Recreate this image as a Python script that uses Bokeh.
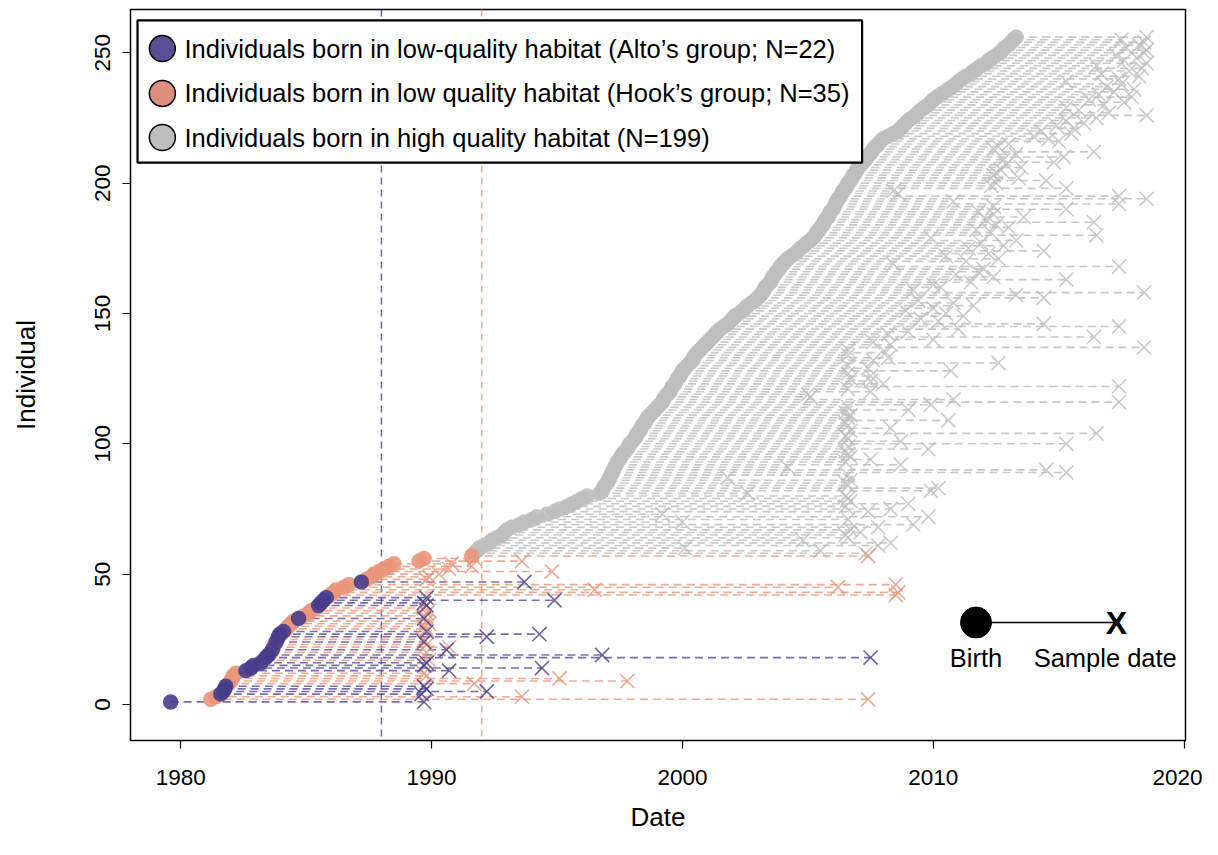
from bokeh.plotting import figure
from bokeh.models import ColumnDataSource, Span, FixedTicker, Range1d
from bokeh.embed import file_html
from bokeh.resources import INLINE
from bokeh.core.properties import value

# ---------------- data ----------------
# Alto's group (low-quality habitat), individual rank, birth date, sample date
alto_id = [1, 4, 5, 6, 7, 13, 14, 15, 16, 18, 19, 21, 24, 26, 27, 28, 33, 38, 39, 40, 41, 47]
alto_birth = [1979.6, 1981.6, 1981.7, 1981.75, 1981.8, 1982.6, 1982.8, 1982.9, 1983.2, 1983.4, 1983.5,
              1983.65, 1983.8, 1983.9, 1983.95, 1984.1, 1984.7, 1985.5, 1985.6, 1985.7, 1985.8, 1987.2]
alto_sample = [1989.7, 1989.6, 1992.2, 1989.8, 1989.7, 1990.7, 1994.4, 1989.7, 1989.8, 2007.5, 1996.8,
               1990.6, 1989.7, 1992.2, 1994.3, 1989.8, 1989.7, 1989.8, 1989.7, 1994.9, 1989.8, 1993.7]

# Hook's group (low quality habitat)
hook_id = [2, 3, 8, 9, 10, 11, 12, 17, 20, 22, 23, 25, 29, 30, 31, 32, 34, 35, 36, 37, 42, 43, 44, 45, 46,
           48, 49, 50, 51, 52, 53, 54, 55, 56, 57]
hook_birth = [1981.2, 1981.4, 1981.9, 1982.0, 1982.05, 1982.1, 1982.2, 1983.3, 1983.6, 1983.7, 1983.75,
              1983.85, 1984.2, 1984.3, 1984.4, 1984.5, 1984.9, 1985.1, 1985.2, 1985.4, 1985.95, 1986.1,
              1986.2, 1986.5, 1986.7, 1987.4, 1987.6, 1987.7, 1987.9, 1988.1, 1988.3, 1988.5, 1989.5,
              1989.7, 1991.6]
hook_sample = [2007.4, 1993.6, 1991.7, 1997.8, 1995.1, 1989.8, 1989.7, 1989.9, 1989.8, 1990.7, 1989.8,
               1989.7, 1989.8, 1989.7, 1989.9, 1989.8, 1989.7, 1989.8, 1989.9, 1989.7, 2008.5, 2008.6,
               1996.5, 2006.2, 2008.5, 1989.8, 1989.9, 1990.3, 1994.8, 1990.7, 1991.6, 1990.8, 1993.6,
               1991.7, 2007.4]

# High quality habitat, individuals ranked 58..256
high_id = list(range(58, 257))
high_birth = [
    1991.7, 1991.8, 1991.9, 1992.1, 1992.3, 1992.4, 1992.6, 1992.8, 1992.9, 1993.0,
    1993.2, 1993.5, 1993.7, 1994.0, 1994.2, 1994.6, 1994.9, 1995.1, 1995.4, 1995.6,
    1995.8, 1996.0, 1996.2, 1996.7, 1996.8, 1996.85, 1996.9, 1997.0, 1997.05, 1997.1,
    1997.15, 1997.2, 1997.25, 1997.3, 1997.35, 1997.4, 1997.5, 1997.55, 1997.6, 1997.7,
    1997.8, 1997.85, 1997.9, 1998.0, 1998.1, 1998.15, 1998.2, 1998.3, 1998.35, 1998.4,
    1998.5, 1998.55, 1998.6, 1998.7, 1998.8, 1998.9, 1999.0, 1999.1, 1999.2, 1999.25,
    1999.3, 1999.4, 1999.5, 1999.55, 1999.6, 1999.7, 1999.75, 1999.8, 1999.9, 1999.95,
    2000.0, 2000.1, 2000.2, 2000.3, 2000.4, 2000.45, 2000.5, 2000.6, 2000.7, 2000.8,
    2000.9, 2001.0, 2001.1, 2001.2, 2001.3, 2001.4, 2001.5, 2001.65, 2001.8, 2001.9,
    2002.0, 2002.1, 2002.25, 2002.4, 2002.5, 2002.6, 2002.75, 2002.9, 2003.0, 2003.1,
    2003.2, 2003.25, 2003.3, 2003.4, 2003.5, 2003.55, 2003.6, 2003.7, 2003.75, 2003.85,
    2003.9, 2004.0, 2004.1, 2004.2, 2004.35, 2004.5, 2004.6, 2004.7, 2004.85, 2004.95,
    2005.1, 2005.2, 2005.3, 2005.35, 2005.45, 2005.5, 2005.6, 2005.65, 2005.7, 2005.8,
    2005.85, 2005.9, 2006.0, 2006.05, 2006.1, 2006.15, 2006.2, 2006.3, 2006.35, 2006.4,
    2006.5, 2006.55, 2006.6, 2006.7, 2006.75, 2006.8, 2006.9, 2006.95, 2007.0, 2007.1,
    2007.2, 2007.3, 2007.35, 2007.45, 2007.55, 2007.6, 2007.7, 2007.8, 2007.9, 2008.0,
    2008.2, 2008.4, 2008.6, 2008.7, 2008.8, 2008.9, 2009.0, 2009.15, 2009.3, 2009.4,
    2009.5, 2009.65, 2009.8, 2009.9, 2010.0, 2010.15, 2010.3, 2010.45, 2010.6, 2010.75,
    2010.9, 2011.0, 2011.15, 2011.3, 2011.5, 2011.6, 2011.75, 2011.9, 2012.1, 2012.2,
    2012.35, 2012.5, 2012.65, 2012.75, 2012.85, 2013.0, 2013.1, 2013.2, 2013.3]
high_sample = [
    2007.3, 2005.5, 2000.1, 2007.8, 2008.3, 2004.8, 2006.6, 2006.5, 2007.1, 2006.7,
    2007.8, 2009.2, 2000.0, 2006.6, 2009.8, 1999.2, 2007.4, 2008.3, 2006.5, 2009.0,
    2006.7, 2006.6, 2006.5, 2002.6, 2009.9, 2010.2, 2006.6, 2006.5, 2006.7, 2001.8,
    2006.6, 2015.3, 2014.5, 2004.2, 2008.7, 2006.5, 2007.5, 2006.7, 2006.6, 2006.5,
    2009.8, 2006.6, 2015.3, 2008.7, 2006.6, 2006.5, 2016.5, 2006.7, 2008.3, 2006.6,
    2006.5, 2010.6, 2006.6, 2006.7, 2006.5, 2009.0, 2006.6, 2009.9, 2017.4, 2010.8,
    2005.1, 2005.0, 2007.5, 2006.6, 2017.4, 2008.0, 2007.5, 2006.7, 2007.5, 2006.6,
    2010.7, 2007.4, 2006.6, 2012.6, 2007.6, 2008.2, 2006.6, 2008.1, 2006.6, 2018.4,
    2008.3, 2007.6, 2010.0, 2016.4, 2008.2, 2009.0, 2011.0, 2017.4, 2014.4, 2010.2,
    2009.5, 2011.2, 2010.5, 2008.9, 2010.0, 2011.6, 2010.8, 2009.4, 2014.4, 2013.3,
    2018.4, 2009.2, 2010.3, 2010.0, 2011.5, 2015.3, 2012.4, 2010.9, 2011.8, 2012.0,
    2017.4, 2008.4, 2011.3, 2012.6, 2010.5, 2012.2, 2014.4, 2011.4, 2012.8, 2011.9,
    2013.3, 2009.9, 2016.5, 2012.3, 2011.7, 2013.0, 2012.5, 2016.4, 2012.1, 2013.6,
    2012.4, 2011.8, 2015.3, 2012.4, 2017.4, 2010.8, 2018.5, 2017.4, 2008.6, 2008.4,
    2015.3, 2012.3, 2012.5, 2014.5, 2013.4, 2012.4, 2012.5, 2012.7, 2013.5, 2012.9,
    2014.8, 2012.8, 2015.2, 2013.3, 2016.4, 2012.4, 2012.6, 2013.0, 2015.0, 2014.6,
    2014.0, 2015.5, 2014.3, 2015.6, 2014.9, 2016.0, 2015.3, 2016.5, 2018.5, 2017.0,
    2015.8, 2015.3, 2016.8, 2017.6, 2016.2, 2017.9, 2016.6, 2017.2, 2018.0, 2016.9,
    2017.5, 2015.3, 2017.4, 2018.2, 2016.7, 2017.8, 2018.3, 2016.5, 2018.5, 2017.6,
    2018.1, 2017.3, 2018.4, 2018.5, 2017.7, 2018.2, 2018.4, 2017.5, 2018.5]

x_ticks = [1980, 1990, 2000, 2010, 2020]
y_ticks = [0, 50, 100, 150, 200, 250]
alto_change = 1988.0
hook_change = 1992.0

legend_labels = ["Individuals born in low-quality habitat (Alto\u2019s group; N=22)",
                 "Individuals born in low quality habitat (Hook\u2019s group; N=35)",
                 "Individuals born in high quality habitat (N=199)"]

PURPLE = "#483D8B"
PINK = "#E9967A"
GRAY = "#BEBEBE"
FONT = "Liberation Sans"

# ---------------- figure ----------------
p = figure(width=1202, height=839, output_backend="svg", toolbar_location=None,
           x_range=Range1d(1978.0, 2020.05), y_range=Range1d(-13.8, 266.6),
           min_border_left=130, min_border_right=17, min_border_top=9, min_border_bottom=99)
p.grid.visible = False
p.outline_line_color = "black"
p.outline_line_width = 1.5
p.background_fill_color = "white"

for ax in (p.xaxis[0], p.yaxis[0]):
    ax.axis_line_color = None
    ax.major_tick_line_color = "black"
    ax.major_tick_line_width = 1.2
    ax.major_tick_out = 8
    ax.major_tick_in = 0
    ax.minor_tick_line_color = None
    ax.major_label_text_font = FONT
    ax.major_label_text_font_size = "22.5px"
    ax.major_label_text_color = "black"
    ax.axis_label_text_font = FONT
    ax.axis_label_text_font_size = "26px"
    ax.axis_label_text_font_style = "normal"
    ax.axis_label_text_color = "black"

p.xaxis.ticker = FixedTicker(ticks=x_ticks)
p.yaxis.ticker = FixedTicker(ticks=y_ticks)
p.yaxis.major_label_orientation = "vertical"
p.xaxis.axis_label = "Date"
p.yaxis.axis_label = "Individual"
p.xaxis.major_label_standoff = 21
p.yaxis.major_label_standoff = 12
p.xaxis.axis_label_standoff = 14
p.yaxis.axis_label_standoff = 52

for xv, col in ((alto_change, PURPLE), (hook_change, PINK)):
    p.add_layout(Span(location=xv, dimension="height", line_color=col, line_alpha=0.8,
                      line_width=1.5, line_dash="7 5", level="underlay"))

groups = [
    (high_id, high_birth, high_sample, GRAY, 0.85),
    (hook_id, hook_birth, hook_sample, PINK, 0.8),
    (alto_id, alto_birth, alto_sample, PURPLE, 0.75),
]
sources = []
for ids, b, s, col, a in groups:
    src = ColumnDataSource(dict(y=ids, birth=b, sample=s))
    sources.append((src, col, a))
    p.segment(x0="birth", y0="y", x1="sample", y1="y", source=src, line_color=col,
              line_alpha=a, line_width=1.6, line_dash="8 5")
for src, col, a in sources:
    p.scatter(x="sample", y="y", source=src, marker="x", size=20, line_color=col,
              line_alpha=0.8, line_width=1.6)
for src, col, a in sources:
    p.scatter(x="birth", y="y", source=src, marker="circle", size=15.5, fill_color=col,
              fill_alpha=0.9, line_color=None)

# ---------------- legend box ----------------
p.quad(left=[1978.28], right=[2007.16], top=[262.4], bottom=[207.9], fill_color="white",
       line_color="black", line_width=2.2)
leg_y = [251.6, 234.4, 217.5]
p.scatter(x=[1979.27] * 3, y=leg_y, marker="circle", size=26,
          fill_color=["#5A4D91", "#DE8E7C", "#BDBDBD"], line_color="black", line_width=1.5)
p.text(x=[1980.15] * 3, y=leg_y, text=legend_labels, text_font=value(FONT),
       text_font_size="25.5px", text_baseline="middle", text_align="left", text_color="black")

# ---------------- birth / sample key ----------------
p.segment(x0=[2011.7], y0=[31.45], x1=[2017.2], y1=[31.45], line_color="black", line_width=1.5)
p.scatter(x=[2011.7], y=[31.45], marker="circle", size=31, fill_color="black", line_color="black")
p.text(x=[2017.3], y=[31.2], text=["X"], text_font=value(FONT), text_font_size="32px",
       text_font_style="bold", text_align="center", text_baseline="middle", text_color="black")
p.text(x=[2011.7, 2016.85], y=[18.0, 18.0], text=["Birth", "Sample date"], text_font=value(FONT),
       text_font_size="25.5px", text_align="center", text_baseline="middle", text_color="black")

open("out.html", "w").write(file_html(p, INLINE))
